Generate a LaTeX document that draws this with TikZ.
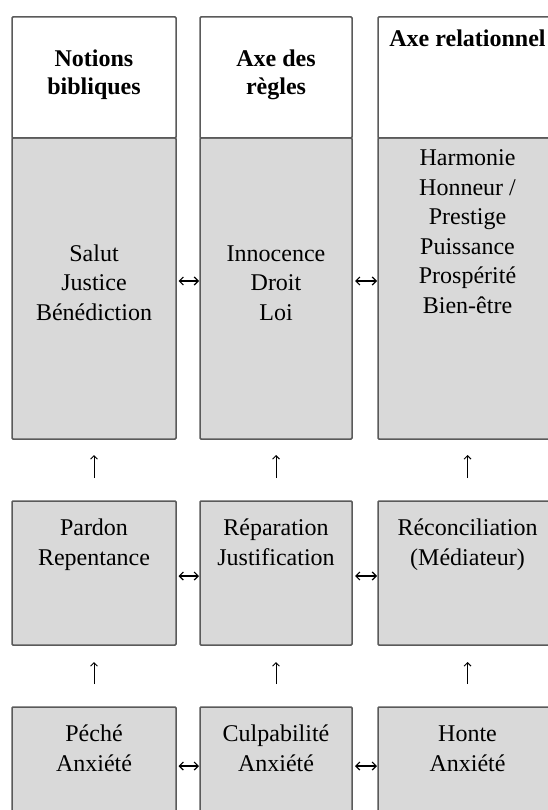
\documentclass[tikz,border=0pt]{standalone}
\usepackage{fontspec}
\setmainfont{Liberation Serif}
\usetikzlibrary{arrows.meta,calc}
\definecolor{bordergray}{HTML}{5A5A5A}
\definecolor{cellgray}{HTML}{D9D9D9}
\begin{document}
\begin{tikzpicture}[x=1pt,y=-1pt,
  cell/.style={draw=bordergray, line width=1.5pt, anchor=north west, inner sep=0pt, outer sep=0pt, rounded corners=1pt},
  head/.style={cell, fill=white, minimum height=121pt},
  grey/.style={cell, fill=cellgray},
  txt/.style={align=center, anchor=base, inner sep=0pt, font=\fontsize{24}{29.5}\selectfont},
  btxt/.style={txt, font=\fontsize{24}{28}\selectfont\bfseries},
  varrow/.style={line width=0.9pt, -{Straight Barb[length=3.5pt,width=7pt]}},
  harrow/.style={line width=1.2pt, {Straight Barb[length=4pt,width=8pt]}-{Straight Barb[length=4pt,width=8pt]}}
]
\clip (0,0) rectangle (548,810);
\fill[white] (0,0) rectangle (548,810);

% top gray boxes
\node[grey, minimum width=164pt, minimum height=301pt] (g1) at (12,138) {};
\node[grey, minimum width=152pt, minimum height=301pt] (g2) at (200,138) {};
\node[grey, minimum width=179pt, minimum height=301pt] (g3) at (378,138) {};
% headers
\node[head, minimum width=164pt] (h1) at (12,17) {};
\node[head, minimum width=152pt] (h2) at (200,17) {};
\node[head, minimum width=179pt] (h3) at (378,17) {};
% middle row
\node[grey, minimum width=164pt, minimum height=144pt] (m1) at (12,501) {};
\node[grey, minimum width=152pt, minimum height=144pt] (m2) at (200,501) {};
\node[grey, minimum width=179pt, minimum height=144pt] (m3) at (378,501) {};
% bottom row
\node[grey, minimum width=164pt, minimum height=130pt] (b1) at (12,707) {};
\node[grey, minimum width=152pt, minimum height=130pt] (b2) at (200,707) {};
\node[grey, minimum width=179pt, minimum height=130pt] (b3) at (378,707) {};

% texts (anchor = baseline of last line)
\node[btxt] (th1) at (94,94.5) {Notions\\bibliques};
\node[btxt] (th2) at (276,94.5) {Axe des\\règles};
\node[btxt] (th3) at (467.5,47) {Axe relationnel};

\node[txt] (tg1) at (94,320) {Salut\\Justice\\Bénédiction};
\node[txt] (tg2) at (276,320) {Innocence\\Droit\\Loi};
\node[txt] (tg3) at (467.5,313) {Harmonie\\Honneur /\\Prestige\\Puissance\\Prospérité\\Bien-être};

\node[txt] (tm1) at (94,565) {Pardon\\Repentance};
\node[txt] (tm2) at (276,565) {Réparation\\Justification};
\node[txt] (tm3) at (467.5,565) {Réconciliation\\(Médiateur)};

\node[txt] (tb1) at (94,771) {Péché\\Anxiété};
\node[txt] (tb2) at (276,771) {Culpabilité\\Anxiété};
\node[txt] (tb3) at (467.5,771) {Honte\\Anxiété};

% vertical arrows
\draw[varrow, shorten <=23pt, shorten >=16pt] (m1.north) -- (g1.south);
\draw[varrow, shorten <=23pt, shorten >=16pt] (m2.north) -- (g2.south);
\draw[varrow, shorten <=23pt, shorten >=16pt] (m3.north) -- (g3.south);
\draw[varrow, shorten <=23pt, shorten >=17pt] (b1.north) -- (m1.south);
\draw[varrow, shorten <=23pt, shorten >=17pt] (b2.north) -- (m2.south);
\draw[varrow, shorten <=23pt, shorten >=17pt] (b3.north) -- (m3.south);

% horizontal arrows
\coordinate (ra) at (0,281);
\coordinate (rb) at (0,576);
\coordinate (rc) at (0,766);
\draw[harrow, shorten <=2.5pt, shorten >=1pt] (g1.east |- ra) -- (g2.west |- ra);
\draw[harrow, shorten <=3pt, shorten >=1pt] (g2.east |- ra) -- (g3.west |- ra);
\draw[harrow, shorten <=2.5pt, shorten >=1pt] (m1.east |- rb) -- (m2.west |- rb);
\draw[harrow, shorten <=3pt, shorten >=1pt] (m2.east |- rb) -- (m3.west |- rb);
\draw[harrow, shorten <=2.5pt, shorten >=1pt] (b1.east |- rc) -- (b2.west |- rc);
\draw[harrow, shorten <=3pt, shorten >=1pt] (b2.east |- rc) -- (b3.west |- rc);
\end{tikzpicture}
\end{document}
